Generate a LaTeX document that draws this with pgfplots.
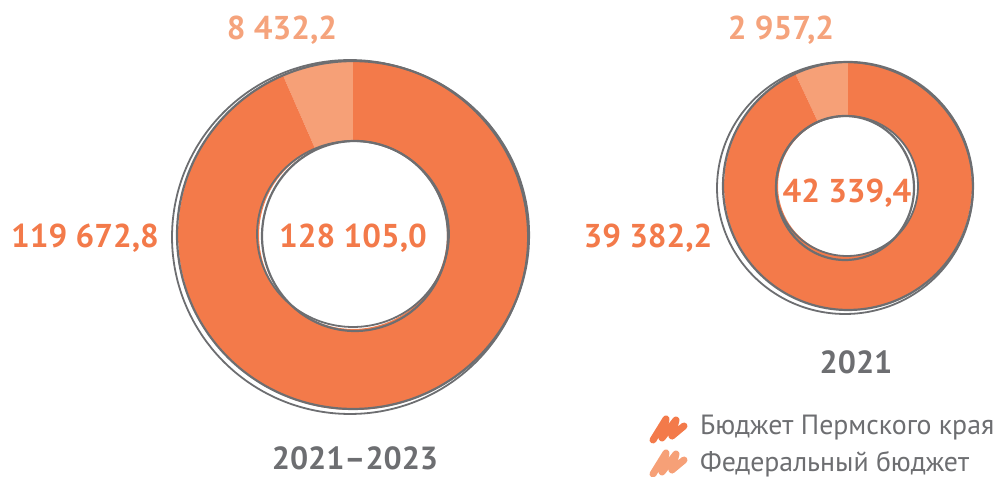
\documentclass[border=0pt]{standalone}
\usepackage{fontspec}
\setmainfont{PT Sans}
\usepackage{pgfplots}
\usepackage{pgfplotstable}
\pgfplotsset{compat=1.18}
\definecolor{regc}{HTML}{F37A4A}
\definecolor{fedc}{HTML}{F6A077}
\definecolor{fedt}{HTML}{F5A37C}
\definecolor{grayc}{HTML}{6D6E71}
\pgfplotstableread{
id cx cy R r regional federal
1 353 -235 175 94 119672.8 8432.2
2 848 -186 124 70 39382.2 2957.2
}\donuts
\begin{document}
\begin{tikzpicture}
\path[use as bounding box] (0,0) rectangle (500pt,238pt);
\pgfplotstablegetelem{0}{regional}\of\donuts \let\regA\pgfplotsretval
\pgfplotstablegetelem{0}{federal}\of\donuts \let\fedA\pgfplotsretval
\pgfplotstablegetelem{1}{regional}\of\donuts \let\regB\pgfplotsretval
\pgfplotstablegetelem{1}{federal}\of\donuts \let\fedB\pgfplotsretval
\pgfkeys{/pgf/fpu=true,/pgf/fpu/output format=fixed}
\pgfmathsetmacro\angA{90+360*\fedA/(\fedA+\regA)}
\pgfmathsetmacro\angB{90+360*\fedB/(\fedB+\regB)}
\pgfkeys{/pgf/fpu=false}
\begin{axis}[at={(0,0)}, anchor=south west, scale only axis, width=500pt, height=238pt,
  xmin=0, xmax=1000, ymin=-476, ymax=0, hide axis, clip=false]
% donut 1
\addplot[fill=fedc, draw=none, samples at={0,0.01,...,2.001}, variable=\t]
  ({353 + (\t<1.005 ? 175*cos(90+(\angA-90)*\t) : 94*cos(\angA-(\angA-90)*(\t-1.01)/0.99))},
   {-235 + (\t<1.005 ? 175*sin(90+(\angA-90)*\t) : 94*sin(\angA-(\angA-90)*(\t-1.01)/0.99))});
\addplot[fill=regc, draw=none, samples at={0,0.01,...,2.001}, variable=\t]
  ({353 + (\t<1.005 ? 175*cos(\angA+(450-\angA)*\t) : 94*cos(450-(450-\angA)*(\t-1.01)/0.99))},
   {-235 + (\t<1.005 ? 175*sin(\angA+(450-\angA)*\t) : 94*sin(450-(450-\angA)*(\t-1.01)/0.99))});
% donut 2
\addplot[fill=fedc, draw=none, samples at={0,0.01,...,2.001}, variable=\t]
  ({848 + (\t<1.005 ? 124*cos(90+(\angB-90)*\t) : 70*cos(\angB-(\angB-90)*(\t-1.01)/0.99))},
   {-186 + (\t<1.005 ? 124*sin(90+(\angB-90)*\t) : 70*sin(\angB-(\angB-90)*(\t-1.01)/0.99))});
\addplot[fill=regc, draw=none, samples at={0,0.01,...,2.001}, variable=\t]
  ({848 + (\t<1.005 ? 124*cos(\angB+(450-\angB)*\t) : 70*cos(450-(450-\angB)*(\t-1.01)/0.99))},
   {-186 + (\t<1.005 ? 124*sin(\angB+(450-\angB)*\t) : 70*sin(450-(450-\angB)*(\t-1.01)/0.99))});
% sketchy outlines
\addplot[grayc, line width=1.1pt, domain=0:360, samples=73, smooth] ({353+176*cos(x)},{-235+174*sin(x)});
\addplot[grayc, line width=0.9pt, domain=0:360, samples=73, smooth] ({350+178*cos(x+20)},{-237+177*sin(x+20)});
\addplot[grayc, line width=1.1pt, domain=0:360, samples=73, smooth] ({355+93*cos(x)},{-236+95*sin(x)});
\addplot[grayc, line width=0.9pt, domain=0:360, samples=73, smooth] ({353+96*cos(x)},{-234+93*sin(x)});
\addplot[grayc, line width=1.1pt, domain=0:360, samples=73, smooth] ({848+125*cos(x)},{-186+124*sin(x)});
\addplot[grayc, line width=0.9pt, domain=0:360, samples=73, smooth] ({845+128*cos(x)},{-188+126*sin(x)});
\addplot[grayc, line width=1.1pt, domain=0:360, samples=73, smooth] ({845+69*cos(x)},{-188+72*sin(x)});
\addplot[grayc, line width=0.9pt, domain=0:360, samples=73, smooth] ({847+71*cos(x)},{-186+70*sin(x)});
% labels
\node[text=regc, font=\bfseries\fontsize{16.5}{16.5}\selectfont] at (axis cs:85,-238) {119 672,8};
\node[text=fedt, font=\bfseries\fontsize{16.5}{16.5}\selectfont] at (axis cs:282,-30) {8 432,2};
\node[text=regc, font=\bfseries\fontsize{16.5}{16.5}\selectfont] at (axis cs:353,-238) {128 105,0};
\node[text=regc, font=\bfseries\fontsize{16.5}{16.5}\selectfont] at (axis cs:648,-238) {39 382,2};
\node[text=fedt, font=\bfseries\fontsize{16.5}{16.5}\selectfont] at (axis cs:781,-30) {2 957,2};
\node[text=regc, font=\bfseries\fontsize{16.5}{16.5}\selectfont] at (axis cs:847,-193) {42 339,4};
\node[text=grayc, font=\bfseries\fontsize{16}{16}\selectfont] at (axis cs:856,-362) {2021};
\node[text=grayc, font=\bfseries\fontsize{16}{16}\selectfont] at (axis cs:355,-458) {2021--2023};
% legend
\draw[regc, line width=3.5pt, line cap=round, line join=round] (axis cs:653,-440) -- (axis cs:666,-419) -- (axis cs:662,-438) -- (axis cs:676,-420) -- (axis cs:672,-436) -- (axis cs:684,-426);
\draw[fedc, line width=3.5pt, line cap=round, line join=round] (axis cs:653,-474) -- (axis cs:666,-453) -- (axis cs:662,-472) -- (axis cs:676,-454) -- (axis cs:672,-470) -- (axis cs:684,-460);
\node[text=grayc, anchor=west, font=\fontsize{13.9}{13.9}\selectfont] at (axis cs:693,-428) {Бюджет Пермского края};
\node[text=grayc, anchor=west, font=\fontsize{13.9}{13.9}\selectfont] at (axis cs:693,-464) {Федеральный бюджет};
\end{axis}
\end{tikzpicture}
\end{document}
